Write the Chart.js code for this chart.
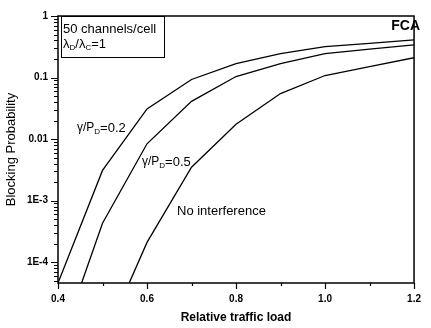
<!DOCTYPE html>
<html>
<head>
<meta charset="utf-8">
<script src="https://cdn.jsdelivr.net/npm/chart.js@4"></script>
<style>
  html, body { margin: 0; padding: 0; background: #fff; }
  #wrap { width: 431px; height: 328px; }
</style>
</head>
<body>
<div id="wrap"><canvas id="myChart" width="431" height="328"></canvas></div>
<script>
// Data
const yMin = 4.6e-5;

const loadsP02 = [0.4, 0.5, 0.6, 0.7, 0.8, 0.9, 1.0, 1.1, 1.2];
const blockP02 = [yMin, 3.1e-3, 0.031, 0.093, 0.169, 0.244, 0.317, 0.36, 0.41];

const loadsP05 = [0.453, 0.5, 0.6, 0.7, 0.8, 0.9, 1.0, 1.1, 1.2];
const blockP05 = [yMin, 4.3e-4, 8.4e-3, 0.041, 0.104, 0.169, 0.244, 0.29, 0.34];

const loadsNoInt = [0.56, 0.6, 0.7, 0.8, 0.9, 1.0, 1.1, 1.2];
const blockNoInt = [yMin, 2.1e-4, 3.5e-3, 0.0175, 0.055, 0.108, 0.15, 0.21];

const yTickValues = [1e-4, 1e-3, 0.01, 0.1, 1];
const yTickLabels = ['1E-4', '1E-3', '0.01', '0.1', '1'];
const xTickValues = [0.4, 0.6, 0.8, 1.0, 1.2];
const xTickLabels = ['0.4', '0.6', '0.8', '1.0', '1.2'];

const toPoints = (xs, ys) => xs.map((x, i) => ({ x: x, y: ys[i] }));

const lineStyle = {
    borderColor: '#000',
    borderWidth: 1.3,
    pointRadius: 0,
    showLine: true,
    tension: 0,
    fill: false
};

const FONT = '"Liberation Sans", Arial, sans-serif';

// frame, outward ticks and text annotations
const framePlugin = {
    id: 'frame',
    afterDraw(chart) {
        const c = chart.ctx;
        const a = chart.chartArea;
        const xs = chart.scales.x, ys = chart.scales.y;
        c.save();
        c.strokeStyle = '#000';
        c.lineWidth = 1.5;
        c.strokeRect(a.left, a.top, a.right - a.left, a.bottom - a.top);
        c.lineWidth = 1.2;
        c.beginPath();
        // y ticks
        for (let e = -5; e <= 0; e++) {
            for (let m = 1; m <= 9; m++) {
                const v = m * Math.pow(10, e);
                if (v < yMin || v > 1) continue;
                const py = Math.round(ys.getPixelForValue(v)) + 0.5;
                const len = m === 1 ? 7 : 4;
                c.moveTo(a.left - len, py);
                c.lineTo(a.left, py);
            }
        }
        // x ticks
        for (let i = 0; i <= 8; i++) {
            const v = 0.4 + i * 0.1;
            const px = Math.round(xs.getPixelForValue(v)) + 0.5;
            const len = i % 2 === 0 ? 6 : 3;
            c.moveTo(px, a.bottom);
            c.lineTo(px, a.bottom + len);
        }
        c.stroke();

        // info box
        c.lineWidth = 1;
        c.strokeRect(61.5, 16.5, 103, 41);
        c.fillStyle = '#000';
        c.textBaseline = 'middle';
        c.textAlign = 'left';
        c.font = '13px ' + FONT;
        c.fillText('50 channels/cell', 63, 29);
        drawSub(c, 63, 44, [['λ', 13], ['D', 8, 4], ['/λ', 13], ['C', 8, 4], ['=1', 13]]);

        c.font = 'bold 14px ' + FONT;
        c.textAlign = 'right';
        c.fillText('FCA', 420, 26);

        c.textAlign = 'left';
        drawSub(c, 77, 128, [['γ/P', 12], ['D', 8, 4], ['=0.2', 13]]);
        drawSub(c, 142, 162, [['γ/P', 12], ['D', 8, 4], ['=0.5', 13]]);
        c.font = '13px ' + FONT;
        c.fillText('No interference', 177, 211);
        c.restore();
    }
};

function drawSub(c, x, y, parts) {
    parts.forEach(p => {
        c.font = p[1] + 'px ' + FONT;
        c.fillText(p[0], x, y + (p[2] || 0));
        x += c.measureText(p[0]).width;
    });
}

const ctx = document.getElementById('myChart').getContext('2d');
const myChart = new Chart(ctx, {
    type: 'scatter',
    data: {
        datasets: [
            Object.assign({ label: 'γ/PD=0.2', data: toPoints(loadsP02, blockP02) }, lineStyle),
            Object.assign({ label: 'γ/PD=0.5', data: toPoints(loadsP05, blockP05) }, lineStyle),
            Object.assign({ label: 'No interference', data: toPoints(loadsNoInt, blockNoInt) }, lineStyle)
        ]
    },
    plugins: [framePlugin],
    options: {
        responsive: false,
        animation: false,
        layout: { padding: { left: 0, right: 8, top: 14, bottom: 0 } },
        plugins: {
            legend: { display: false },
            tooltip: { enabled: false }
        },
        scales: {
            x: {
                type: 'linear',
                min: 0.4,
                max: 1.2,
                grid: { display: false, drawTicks: false },
                border: { display: false },
                afterFit(scale) { scale.height = 45; },
                afterBuildTicks(scale) { scale.ticks = xTickValues.map(v => ({ value: v })); },
                ticks: {
                    padding: 10,
                    color: '#000',
                    font: { family: FONT, size: 10, weight: 'bold' },
                    callback: (v, i) => xTickLabels[i]
                },
                title: {
                    display: true,
                    text: 'Relative traffic load',
                    color: '#000',
                    font: { family: FONT, size: 12, weight: 'bold' },
                    padding: { top: 0, bottom: 3 }
                }
            },
            y: {
                type: 'logarithmic',
                min: yMin,
                max: 1,
                grid: { display: false, drawTicks: false },
                border: { display: false },
                afterFit(scale) { scale.width = 58; },
                afterBuildTicks(scale) { scale.ticks = yTickValues.map(v => ({ value: v })); },
                ticks: {
                    padding: 10,
                    color: '#000',
                    font: { family: FONT, size: 10, weight: 'bold' },
                    callback: (v, i) => yTickLabels[i]
                },
                title: {
                    display: true,
                    text: 'Blocking Probability',
                    color: '#000',
                    font: { family: FONT, size: 13 },
                    padding: { top: 4, bottom: 0 }
                }
            }
        }
    }
});
</script>
</body>
</html>
